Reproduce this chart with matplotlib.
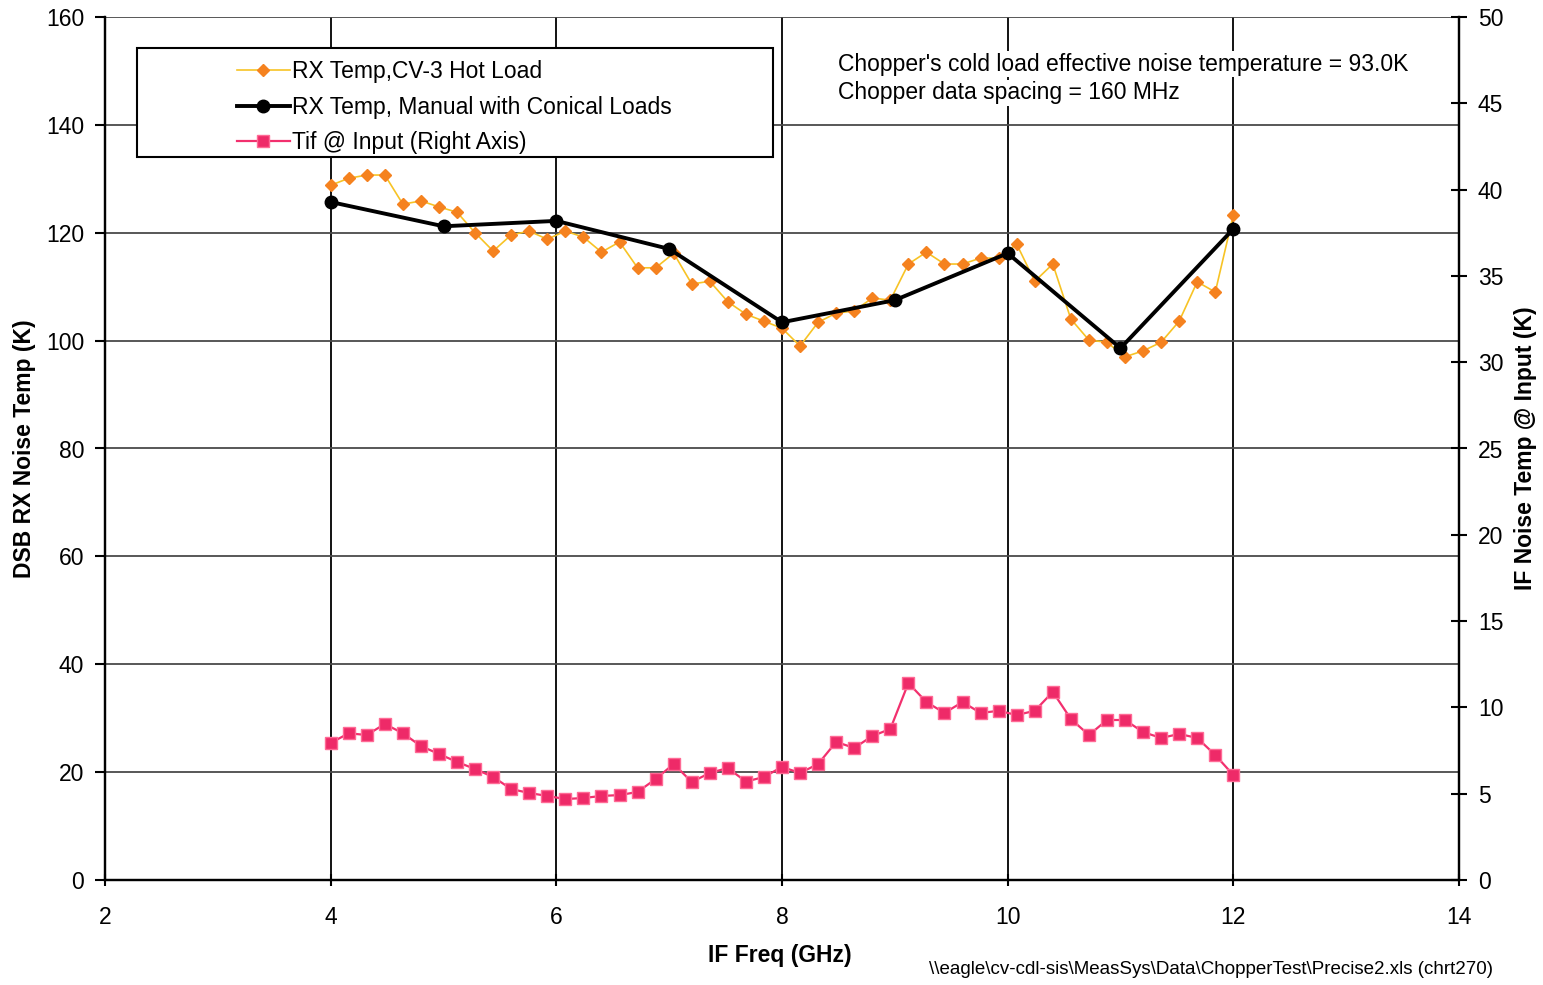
import numpy as np
import matplotlib
matplotlib.use("Agg")
import matplotlib.pyplot as plt
from matplotlib.patches import Rectangle

plt.rcParams['font.family'] = ['Liberation Sans', 'DejaVu Sans']

# --- data ---
# chopper data, 160 MHz spacing from 4 to 12 GHz
chopper_freq = [4.00, 4.16, 4.32, 4.48, 4.64, 4.80, 4.96, 5.12, 5.28, 5.44,
                5.60, 5.76, 5.92, 6.08, 6.24, 6.40, 6.56, 6.72, 6.88, 7.04,
                7.20, 7.36, 7.52, 7.68, 7.84, 8.00, 8.16, 8.32, 8.48, 8.64,
                8.80, 8.96, 9.12, 9.28, 9.44, 9.60, 9.76, 9.92, 10.08, 10.24,
                10.40, 10.56, 10.72, 10.88, 11.04, 11.20, 11.36, 11.52, 11.68, 11.84,
                12.00]
rx_hot_load = [128.8, 130.1, 130.7, 130.7, 125.3, 125.9, 124.8, 123.8, 120.0, 116.6,
               119.6, 120.3, 118.8, 120.3, 119.2, 116.4, 118.3, 113.5, 113.5, 116.2,
               110.5, 111.0, 107.2, 104.9, 103.6, 102.3, 99.0, 103.4, 105.1, 105.5,
               107.9, 107.5, 114.2, 116.4, 114.2, 114.2, 115.3, 115.3, 117.9, 111.0,
               114.2, 104.0, 100.1, 99.7, 97.0, 98.1, 99.7, 103.6, 110.9, 109.0,
               123.3]
tif_input = [7.94, 8.50, 8.40, 9.04, 8.50, 7.76, 7.30, 6.84, 6.43, 5.97,
             5.27, 5.04, 4.87, 4.69, 4.75, 4.87, 4.92, 5.10, 5.85, 6.72,
             5.68, 6.20, 6.49, 5.70, 5.97, 6.55, 6.20, 6.72, 8.00, 7.65,
             8.34, 8.75, 11.41, 10.31, 9.68, 10.31, 9.68, 9.80, 9.56, 9.80,
             10.90, 9.33, 8.40, 9.27, 9.27, 8.57, 8.23, 8.46, 8.23, 7.24,
             6.08]

# manual measurement with conical loads, 1 GHz spacing
manual_freq = [4, 5, 6, 7, 8, 9, 10, 11, 12]
rx_manual = [125.7, 121.2, 122.2, 117.0, 103.4, 107.5, 116.2, 98.6, 120.7]

legend_labels = ["RX Temp,CV-3 Hot Load",
                 "RX Temp, Manual with Conical Loads",
                 "Tif @ Input (Right Axis)"]
note_lines = ["Chopper's cold load effective noise temperature = 93.0K",
              "Chopper data spacing = 160 MHz"]
footnote = "\\\\eagle\\cv-cdl-sis\\MeasSys\\Data\\ChopperTest\\Precise2.xls (chrt270)"

FS = 16.5

fig = plt.figure(figsize=(15.43, 9.85), dpi=100)
ax = fig.add_axes([105 / 1543, 105 / 985, 1354 / 1543, 863 / 985])
ax2 = ax.twinx()

# grid
ax.set_xlim(2, 14)
ax.set_ylim(0, 160)
ax.set_xticks(np.arange(2, 15, 2))
ax.set_yticks(np.arange(0, 161, 20))
ax.xaxis.grid(True, color='black', linewidth=1.3)
ax.yaxis.grid(True, color='#4a4a4a', linewidth=1.3)
ax.set_axisbelow(True)

l1, = ax.plot(chopper_freq, rx_hot_load, color='#F7C325', linewidth=1.2,
              marker='D', markersize=6.5, markerfacecolor='#F5821F',
              markeredgecolor='#F5821F', zorder=3)
l2, = ax.plot(manual_freq, rx_manual, color='black', linewidth=2.8,
              marker='o', markersize=9, markerfacecolor='black', zorder=4)

ax2.set_ylim(0, 50)
ax2.set_yticks(np.arange(0, 51, 5))
l3, = ax2.plot(chopper_freq, tif_input, color='#F2306E', linewidth=1.6,
               marker='s', markersize=8, markerfacecolor='#EE2A68',
               markeredgecolor='#FF6A95', markeredgewidth=1.0, zorder=3)

# spines / ticks
for a in (ax, ax2):
    a.spines['top'].set_visible(False)
    for s in ('left', 'right', 'bottom'):
        a.spines[s].set_linewidth(1.6)
        a.spines[s].set_color('black')
ax.tick_params(axis='y', direction='out', length=7, width=1.5, pad=8, labelsize=FS)
ax.tick_params(axis='x', direction='inout', length=8, width=1.5, pad=15, labelsize=FS)
ax2.tick_params(axis='y', direction='inout', length=11, width=1.5, pad=8, labelsize=FS)

ax.set_xlabel("IF Freq (GHz)", fontsize=FS, fontweight='bold')
ax.set_ylabel("DSB RX Noise Temp (K)", fontsize=FS, fontweight='bold')
ax2.set_ylabel("IF Noise Temp @ Input (K)", fontsize=FS, fontweight='bold')
ax.xaxis.set_label_coords(0.4985, -0.074)
ax.yaxis.set_label_coords(-0.051, 0.5)
ax2.yaxis.set_label_coords(1.0406, 0.5)

# legend with an Excel style box
box = Rectangle((32 / 1354, (880 - 157) / 863), 636 / 1354, 109 / 863,
                transform=ax2.transAxes, facecolor='white', edgecolor='black',
                linewidth=1.5, zorder=9)
ax2.add_patch(box)
leg = ax2.legend([l1, l2, l3], legend_labels, loc='upper left',
                 bbox_to_anchor=(132 / 1354, (880 - 60) / 863), frameon=False,
                 fontsize=FS, handlelength=2.3, handletextpad=0.1,
                 labelspacing=0.55, borderpad=0, borderaxespad=0)
leg.set_zorder(10)

note_box = dict(facecolor='white', edgecolor='none', pad=1)
ax2.text(0.541, (880 - 64) / 863, note_lines[0], transform=ax2.transAxes,
         fontsize=FS, va='center', ha='left', bbox=note_box, zorder=8)
ax2.text(0.541, (880 - 93) / 863, note_lines[1], transform=ax2.transAxes,
         fontsize=FS, va='center', ha='left', bbox=note_box, zorder=8)

fig.text(1493 / 1543, 1 - 970 / 985, footnote, fontsize=13.5, ha='right', va='center')

fig.savefig("out.png", dpi=100)
